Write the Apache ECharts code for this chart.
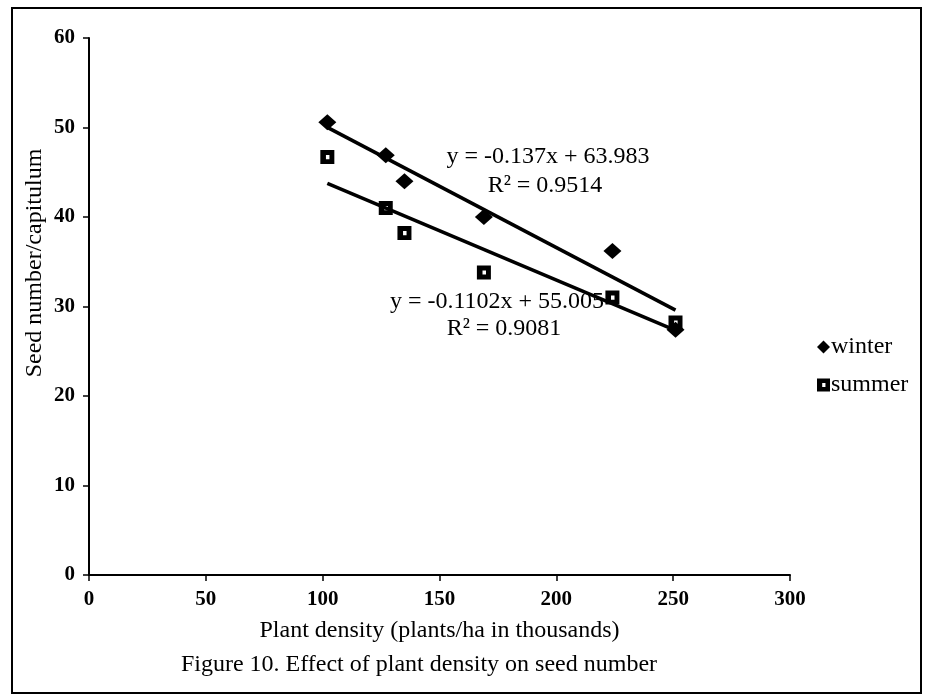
<!DOCTYPE html>
<html>
<head>
<meta charset="utf-8">
<script src="https://cdn.jsdelivr.net/npm/echarts@6/dist/echarts.min.js"></script>
<style>
  html, body { margin: 0; padding: 0; background: #fff; }
  #chart { width: 926px; height: 700px; }
</style>
</head>
<body>
<div id="chart"></div>
<script>
// Plant density (thousand plants/ha) and seed number per capitulum
const density      = [102, 127, 135, 169, 224, 251];
const winterSeeds  = [50.6, 46.9, 44.0, 40.0, 36.2, 27.4];
const summerSeeds  = [46.7, 41.0, 38.2, 33.8, 31.0, 28.2];

// Linear trend coefficients [slope, intercept] and their printed labels
const winterFit    = [-0.137, 63.983];
const summerFit    = [-0.1102, 55.005];
const winterFitText = ['y = -0.137x + 63.983', 'R² = 0.9514'];
const summerFitText = ['y = -0.1102x + 55.005', 'R² = 0.9081'];

const seriesNames  = ['winter', 'summer'];
const xAxisRange   = [0, 300, 50];
const yAxisRange   = [0, 60, 10];

const FONT = '"Liberation Serif", "Times New Roman", serif';

function pairs(xs, ys) { return xs.map((x, i) => [x, ys[i]]); }
function trend(fit) {
  const x0 = Math.min.apply(null, density);
  const x1 = Math.max.apply(null, density);
  return [[x0, fit[0] * x0 + fit[1]], [x1, fit[0] * x1 + fit[1]]];
}

// square marker with a small light hole, like the printed open-centred square
const squareSymbol = 'path://M0,0H10V10H0Z M4,3.5V6.5H6.5V3.5Z';

const chart = echarts.init(document.getElementById('chart'), null, { renderer: 'canvas' });

const textStyle = { fontFamily: FONT, color: '#000', fontSize: 24, fontWeight: 'normal' };

chart.setOption({
  backgroundColor: '#fff',
  animation: false,
  textStyle: { fontFamily: FONT, color: '#000' },
  title: [
    { text: winterFitText[0], left: 543, top: 140, textAlign: 'center', textStyle: textStyle },
    { text: winterFitText[1], left: 540, top: 169, textAlign: 'center', textStyle: textStyle },
    { text: summerFitText[0], left: 492, top: 285, textAlign: 'center', textStyle: textStyle },
    { text: summerFitText[1], left: 499, top: 312, textAlign: 'center', textStyle: textStyle },
    { text: 'Figure 10. Effect of plant density on seed number', left: 414, top: 648,
      textAlign: 'center', textStyle: textStyle }
  ],
  graphic: [
    { type: 'rect', shape: { x: 12, y: 8, width: 909, height: 685 },
      style: { fill: 'none', stroke: '#000', lineWidth: 2 }, silent: true },
    { type: 'text', x: 35, y: 263, rotation: Math.PI / 2, silent: true,
      style: { text: 'Seed number/capitulum', fontFamily: FONT, fontSize: 24, fill: '#000',
               align: 'center', verticalAlign: 'middle' } }
  ],
  legend: {
    data: [
      { name: seriesNames[0], icon: 'diamond' },
      { name: seriesNames[1], icon: squareSymbol }
    ],
    orient: 'vertical',
    left: 812,
    top: 330,
    itemWidth: 13,
    itemHeight: 13,
    itemGap: 14,
    itemStyle: { opacity: 1 },
    textStyle: { fontFamily: FONT, fontSize: 24, color: '#000', padding: [0, 0, 0, -4] }
  },
  grid: { left: 89, right: 136, top: 38, bottom: 125, containLabel: false },
  xAxis: {
    type: 'value',
    min: xAxisRange[0], max: xAxisRange[1], interval: xAxisRange[2],
    name: 'Plant density (plants/ha in thousands)',
    nameLocation: 'middle',
    nameGap: 44,
    nameTextStyle: { fontFamily: FONT, fontSize: 24, color: '#000' },
    axisLine: { lineStyle: { color: '#000', width: 2 } },
    axisTick: { length: 6, lineStyle: { color: '#000', width: 1.5 } },
    axisLabel: { fontFamily: FONT, fontSize: 21, fontWeight: 'bold', color: '#000', margin: 14 },
    splitLine: { show: false }
  },
  yAxis: {
    type: 'value',
    min: yAxisRange[0], max: yAxisRange[1], interval: yAxisRange[2],
    axisLine: { show: true, lineStyle: { color: '#000', width: 2 } },
    axisTick: { show: true, length: 6, lineStyle: { color: '#000', width: 1.5 } },
    axisLabel: { fontFamily: FONT, fontSize: 21, fontWeight: 'bold', color: '#000', margin: 14 },
    splitLine: { show: false }
  },
  series: [
    {
      name: 'winter trend', type: 'line', data: trend(winterFit),
      symbol: 'none', lineStyle: { color: '#000', width: 3.5 }, z: 2
    },
    {
      name: 'summer trend', type: 'line', data: trend(summerFit),
      symbol: 'none', lineStyle: { color: '#000', width: 3.5 }, z: 2
    },
    {
      name: seriesNames[0], type: 'scatter', data: pairs(density, winterSeeds),
      symbol: 'diamond', symbolSize: [18, 16],
      itemStyle: { color: '#000', opacity: 1 }, z: 3
    },
    {
      name: seriesNames[1], type: 'scatter', data: pairs(density, summerSeeds),
      symbol: squareSymbol, symbolSize: [14, 14],
      itemStyle: { color: '#000', opacity: 1 }, z: 4
    }
  ]
});
</script>
</body>
</html>
